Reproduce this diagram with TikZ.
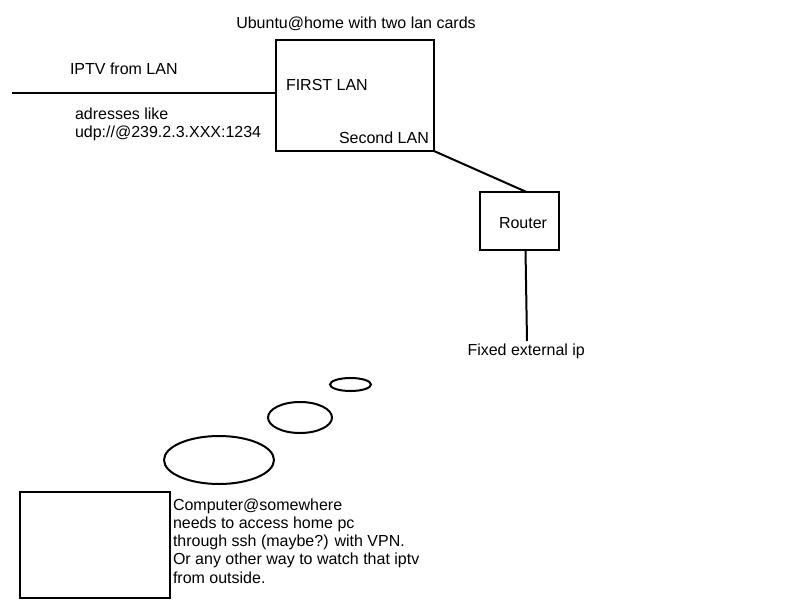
\documentclass[tikz,border=0pt]{standalone}
\usepackage{fontspec}
\setmainfont{Liberation Sans}
\usetikzlibrary{calc,shapes.geometric}
\begin{document}
\begin{tikzpicture}[x=1pt,y=-1pt,
  every node/.style={inner sep=0pt,outer sep=0pt},
  lbl/.style={font=\fontsize{16}{18.3}\selectfont},
  boxed/.style={draw,line width=2pt},
  wire/.style={line width=2pt},
  bubble/.style={draw,line width=2pt}]
\useasboundingbox (0,0) rectangle (800,600);
% boxes
\node[boxed,minimum width=158pt,minimum height=111pt,anchor=north west] (home) at (276,40) {};
\node[boxed,minimum width=79pt,minimum height=58pt,anchor=north west] (router) at (480,192) {};
\node[boxed,minimum width=150pt,minimum height=106pt,anchor=north west] (remote) at (20,492) {};
% free end of the LAN line
\coordinate (lanend) at (12,93);
\coordinate (ext) at (527,341);
% connectors
\draw[wire] (lanend) -- (home.west |- lanend);
\draw[wire] (home.south east) -- ($(router.north)+(7,0)$);
\draw[wire] ($(router.south)+(6,0)$) -- (ext);
% labels
\node[lbl,anchor=base] (title) at (356,28) {Ubuntu@home with two lan cards};
\node[lbl,anchor=base west] (iptv) at (70,74) {IPTV from LAN};
\node[lbl,anchor=base west] (first) at (286,90) {FIRST LAN};
\node[lbl,anchor=base west] (addr1) at (75,119) {adresses like};
\node[lbl,anchor=base west] (addr2) at (75,137) {udp://@239.2.3.XXX:1234};
\node[lbl,anchor=base west] (second) at (339,143) {Second LAN};
\node[lbl,anchor=base west] (routerlbl) at (499,228) {Router};
\node[lbl,anchor=base west] (fixed) at (467.5,355) {Fixed external ip};
% bubbles
\node[bubble,ellipse,minimum width=41pt,minimum height=13pt] (b1) at (350.5,384.5) {};
\node[bubble,ellipse,minimum width=64pt,minimum height=31pt] (b2) at (300,417.5) {};
\node[bubble,ellipse,minimum width=110pt,minimum height=48pt] (b3) at (219,460) {};
% remote text
\node[lbl,anchor=base west] (r1) at (173,510) {Computer@somewhere};
\node[lbl,anchor=base west] (r2) at (173,528.3) {needs to access home pc};
\node[lbl,anchor=base west] (r3) at (173,546.6) {through ssh (maybe?) with VPN.};
\node[lbl,anchor=base west] (r4) at (173,564.9) {Or any other way to watch that iptv};
\node[lbl,anchor=base west] (r5) at (173,583.2) {from outside.};
\end{tikzpicture}
\end{document}
